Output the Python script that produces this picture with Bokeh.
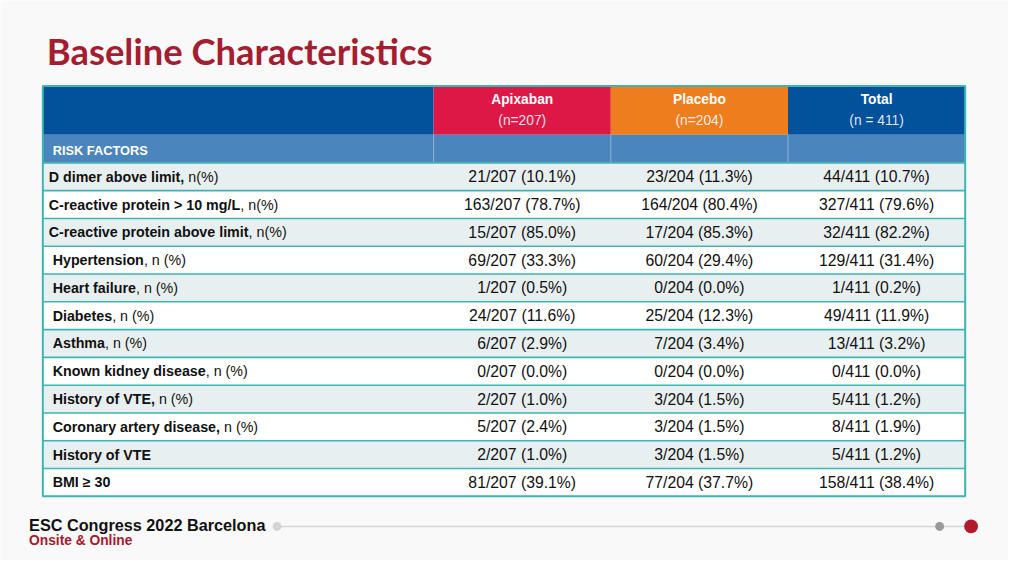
from bokeh.plotting import figure
from bokeh.models import Range1d, ColumnDataSource
from bokeh.core.properties import value
from bokeh.embed import file_html
from bokeh.resources import INLINE

# ---------------- data ----------------
title = "Baseline Characteristics"
group_names = ["Apixaban", "Placebo", "Total"]
group_sizes = ["(n=207)", "(n=204)", "(n = 411)"]
group_totals = [207, 204, 411]
section_label = "RISK FACTORS"

label_bold = [
    "D dimer above limit,",
    "C-reactive protein > 10 mg/L",
    "C-reactive protein above limit",
    "Hypertension",
    "Heart failure",
    "Diabetes",
    "Asthma",
    "Known kidney disease",
    "History of VTE,",
    "Coronary artery disease,",
    "History of VTE",
    "BMI \u2265 30",
]
label_normal = [
    " n(%)", ", n(%)", ", n(%)", ", n (%)", ", n (%)", ", n (%)",
    ", n (%)", ", n (%)", " n (%)", " n (%)", "", "",
]

apixaban_n = [21, 163, 15, 69, 1, 24, 6, 0, 2, 5, 2, 81]
apixaban_pct = [10.1, 78.7, 85.0, 33.3, 0.5, 11.6, 2.9, 0.0, 1.0, 2.4, 1.0, 39.1]
placebo_n = [23, 164, 17, 60, 0, 25, 7, 0, 3, 3, 3, 77]
placebo_pct = [11.3, 80.4, 85.3, 29.4, 0.0, 12.3, 3.4, 0.0, 1.5, 1.5, 1.5, 37.7]
total_n = [44, 327, 32, 129, 1, 49, 13, 0, 5, 8, 5, 158]
total_pct = [10.7, 79.6, 82.2, 31.4, 0.2, 11.9, 3.2, 0.0, 1.2, 1.9, 1.2, 38.4]

footer_main = "ESC Congress 2022 Barcelona"
footer_sub = "Onsite & Online"

# ---------------- layout / style ----------------
W, H = 1008, 560
S = W / 1024.0          # slide (1024x576) -> figure scale
TEAL = "#3db5b2"
DARK_BLUE = "#02519b"
MID_BLUE = "#4b85bd"
CRIMSON = "#dc1847"
ORANGE = "#ee7d1e"
ROW_GRAY = "#e8eff0"
BG = "#f9f9f9"
RED = "#a8192e"


def fs(px):
    return f"{px * S:.2f}px"


# Liberation Sans Bold (Arial Bold metrics) advance widths / 1000
AB = {" ": 278, ",": 278, "-": 333, ".": 278, "/": 278, ">": 584, "\u2265": 549,
      "(": 333, ")": 333, "%": 889}
for ch in "0123456789":
    AB[ch] = 556
AB.update(dict(zip("ABCDEFGHIJKLMNOPQRSTUVWXYZ",
                   [722, 722, 722, 722, 667, 611, 778, 722, 278, 556, 722, 611, 833,
                    722, 778, 667, 778, 722, 667, 611, 722, 667, 944, 667, 667, 611])))
AB.update(dict(zip("abcdefghijklmnopqrstuvwxyz",
                   [556, 611, 556, 611, 556, 333, 611, 611, 278, 278, 556, 278, 889,
                    611, 611, 611, 611, 389, 556, 333, 611, 556, 778, 556, 556, 500])))


def bold_width(s, size):
    return sum(AB.get(c, 556) for c in s) / 1000.0 * size


p = figure(width=W, height=H, output_backend="svg", toolbar_location=None,
           x_range=Range1d(0, 1024), y_range=Range1d(576, 0),
           min_border=0, background_fill_color=BG, border_fill_color=BG)
p.axis.visible = False
p.grid.visible = False
p.outline_line_color = None

# title
p.text(x=[47], y=[52], text=[title], text_font=value("Lato"), text_font_style="bold",
       text_font_size=fs(37), text_color="#a51d31", text_baseline="middle", text_align="left")

# table geometry
tx0, tx1 = 43, 980
col_edges = [440, 620, 800, 980]
col_centers = [(col_edges[i] + col_edges[i + 1]) / 2 for i in range(3)]
head_top, head_bot = 88, 138
sec_bot = 167
tab_bot = 510
nrows = len(label_bold)
rh = (tab_bot - sec_bot) / nrows
row_tops = [sec_bot + i * rh for i in range(nrows)]
row_mid = [t + rh / 2 for t in row_tops]

# header cells
head_colors = [CRIMSON, ORANGE, DARK_BLUE]
p.quad(left=[tx0] + col_edges[:3], right=[col_edges[0]] + col_edges[1:],
       top=[head_top] * 4, bottom=[head_bot] * 4,
       fill_color=[DARK_BLUE] + head_colors, line_color=None)
# section row
p.quad(left=[tx0], right=[tx1], top=[head_bot], bottom=[sec_bot], fill_color=MID_BLUE, line_color=None)
p.segment(x0=col_edges[:3], x1=col_edges[:3], y0=[head_bot] * 3, y1=[sec_bot] * 3,
          line_color="#8fb3d8", line_width=1)
# data rows
row_fill = [ROW_GRAY if i % 2 == 0 else "#ffffff" for i in range(nrows)]
p.quad(left=[tx0] * nrows, right=[tx1] * nrows, top=row_tops,
       bottom=[t + rh for t in row_tops], fill_color=row_fill, line_color=None)
# row separators
seps = [sec_bot] + [t + rh for t in row_tops[:-1]]
p.segment(x0=[tx0] * len(seps), x1=[tx1] * len(seps), y0=seps, y1=seps,
          line_color=TEAL, line_width=1.6)
# outer border
p.quad(left=[tx0], right=[tx1], top=[head_top], bottom=[tab_bot],
       fill_color=None, line_color=TEAL, line_width=2)

# header texts
p.text(x=col_centers, y=[102] * 3, text=group_names, text_font=value("Liberation Sans"),
       text_font_style="bold", text_font_size=fs(14), text_color="white",
       text_align="center", text_baseline="middle")
p.text(x=col_centers, y=[123] * 3, text=group_sizes, text_font=value("Liberation Sans"),
       text_font_size=fs(14), text_color="white", text_alpha=0.88,
       text_align="center", text_baseline="middle")
p.text(x=[53], y=[154.5], text=[section_label], text_font=value("Liberation Sans"),
       text_font_style="bold", text_font_size=fs(13), text_color="white",
       text_align="left", text_baseline="middle")

# row labels (bold part, then regular part placed after it)
LSIZE = 14.5
indent = [49, 49, 49] + [53] * (nrows - 3)
p.text(x=indent, y=row_mid, text=label_bold, text_font=value("Liberation Sans"),
       text_font_style="bold", text_font_size=fs(LSIZE), text_color="#111111",
       text_align="left", text_baseline="middle")
lead = [len(s) - len(s.lstrip(" ")) for s in label_normal]
nx = [indent[i] + bold_width(label_bold[i] + " " * lead[i], LSIZE) for i in range(nrows)]
p.text(x=nx, y=row_mid, text=[s.lstrip(" ") for s in label_normal],
       text_font=value("Liberation Sans"),
       text_font_size=fs(LSIZE), text_color="#111111",
       text_align="left", text_baseline="middle")

# values
for ci, (ns, pcts, tot) in enumerate([(apixaban_n, apixaban_pct, group_totals[0]),
                                      (placebo_n, placebo_pct, group_totals[1]),
                                      (total_n, total_pct, group_totals[2])]):
    txt = [f"{n}/{tot} ({pc:.1f}%)" for n, pc in zip(ns, pcts)]
    src = ColumnDataSource(dict(x=[col_centers[ci]] * nrows, y=row_mid, t=txt))
    p.text(x="x", y="y", text="t", source=src, text_font=value("Liberation Sans"),
           text_font_size=fs(16), text_color="#111111",
           text_align="center", text_baseline="middle")

# footer
p.segment(x0=[281], x1=[986], y0=[541], y1=[541], line_color="#d6d6d6", line_width=1.5)
p.scatter(x=[281], y=[541], size=9 * S, fill_color="#d4d4d4", line_color=None)
p.scatter(x=[954], y=[541], size=9 * S, fill_color="#999999", line_color=None)
p.scatter(x=[986], y=[541], size=14 * S, fill_color="#b3182d", line_color=None)
p.text(x=[29], y=[539.5], text=[footer_main], text_font=value("Liberation Sans"),
       text_font_style="bold", text_font_size=fs(16.5), text_color="#111111",
       text_align="left", text_baseline="middle")
p.text(x=[29], y=[555.5], text=[footer_sub], text_font=value("Liberation Sans"),
       text_font_style="bold", text_font_size=fs(14), text_color=RED,
       text_align="left", text_baseline="middle")

open("out.html", "w").write(file_html(p, INLINE))
